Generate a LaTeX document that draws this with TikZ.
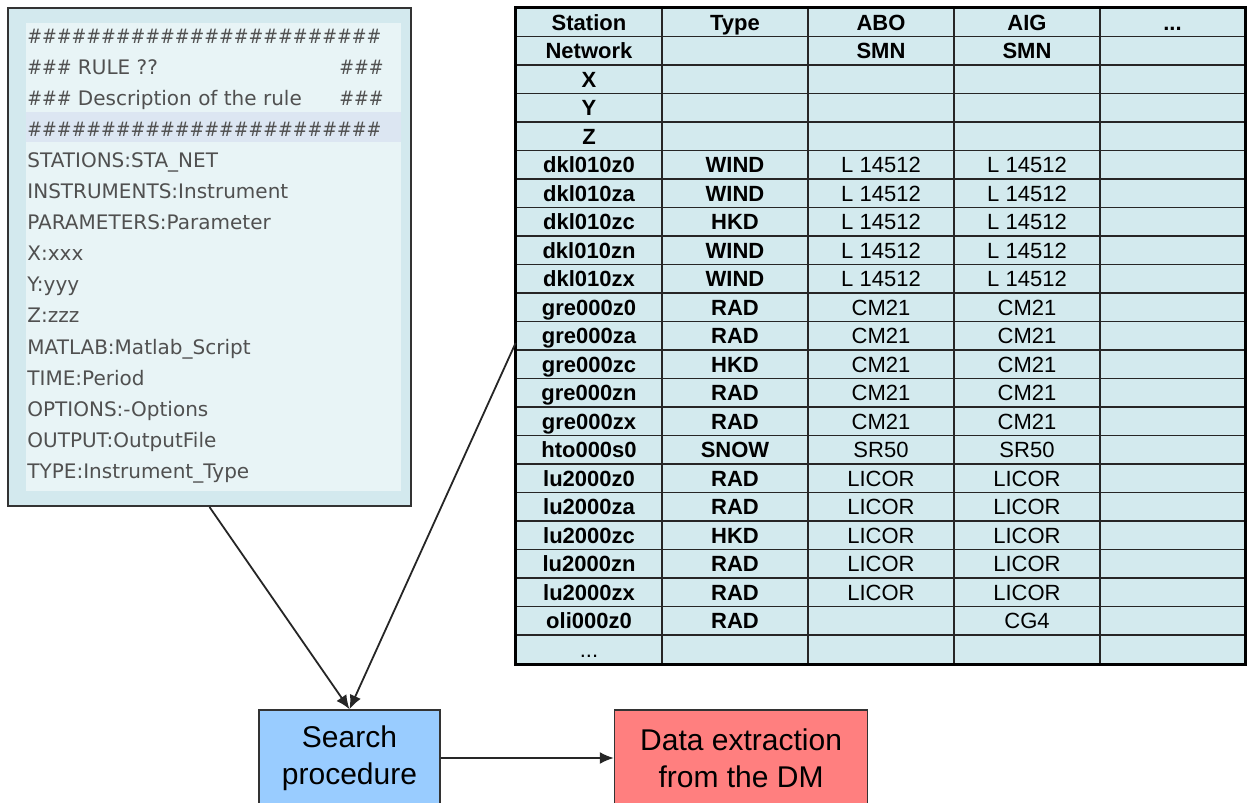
\documentclass[tikz,border=0pt]{standalone}
\usepackage{fontspec}
\setmainfont{Liberation Sans}
\newfontfamily\rulefont{DejaVu Sans}
\usetikzlibrary{positioning,arrows.meta}

\definecolor{panelbg}{HTML}{D3E9EE}
\definecolor{panelin}{HTML}{E8F4F6}
\definecolor{panelhl}{HTML}{DCE6F2}
\definecolor{rulegray}{HTML}{505050}
\definecolor{tablebg}{HTML}{D3EAEE}
\definecolor{searchblue}{HTML}{99CCFF}
\definecolor{extractred}{HTML}{FF7F7F}

\newcommand\hh{\scalebox{.88}[1]{\#\#\#}}
\newcommand\hashrow{\scalebox{.88}[1]{\#\#\#\#\#\#\#\#\#\#\#\#\#\#\#\#\#\#\#\#\#\#\#\#}}
\newcommand\more{...}

\begin{document}
\begin{tikzpicture}[x=0.5pt, y=-0.5pt,
        every node/.style = {inner sep=0pt},
        rulerow/.style = {anchor=base west, text=rulegray,
                          font=\rulefont\fontsize{10}{12}\selectfont},
        cell/.style = {font=\fontsize{11}{13}\selectfont,
                       text height=7.9pt, text depth=0pt},
        boldcell/.style = {cell, font=\fontsize{11}{13}\selectfont\bfseries},
        procbox/.style = {draw=black!80, line width=0.8pt, minimum height=48pt,
                          align=center, font=\fontsize{15}{18.5}\selectfont},
        flow/.style = {-{Latex[length=7pt,width=6pt]}, line width=0.9pt, draw=black!85}]
    \useasboundingbox (0,0) rectangle (1248,803);

    % rule file
    \node[draw=black!80, line width=1pt, fill=panelbg,
          minimum width=201.5pt, minimum height=249pt] (panel) at (209.5,257) {};
    \node[fill=panelin, minimum width=187.5pt, minimum height=234pt] (sheet) at (213.5,257) {};
    \node[fill=panelhl, minimum width=187.5pt, minimum height=15pt] (hl) at (213.5,127) {};
    \foreach \txt [count=\k] in {\hashrow, \hh{} RULE ??, \hh{} Description of the rule,
            \hashrow, STATIONS:STA\_NET, INSTRUMENTS:Instrument, PARAMETERS:Parameter,
            X:xxx, Y:yyy, Z:zzz, MATLAB:Matlab\_Script, TIME:Period,
            OPTIONS:-Options, OUTPUT:OutputFile, TYPE:Instrument\_Type}
        \node[rulerow] (rl\k) at (27,{43+31.1*(\k-1)}) {\txt};
    \node[rulerow, anchor=base east] (rr2) at (384,74.1) {\hh};
    \node[rulerow, anchor=base east] (rr3) at (384,105.2) {\hh};

    % station table
    \node[fill=tablebg, minimum width=364.5pt, minimum height=328pt] (tab) at (880.5,336) {};
    \foreach \cx in {662,808,954,1100}
        \draw[line width=0.9pt, black!85] (\cx,8) -- (\cx,664);
    \foreach \r in {1,...,22}
        \draw[line width=0.9pt, black!85] (516,{8+28.5*\r}) -- (1245,{8+28.5*\r});
    \draw[line width=1.5pt] (tab.north west) rectangle (tab.south east);

    \foreach \txt/\cx [count=\c] in {Station/589, Type/735, ABO/881, AIG/1027, \more/1172.5}
        \node[boldcell] (hd\c) at (\cx,22.25) {\txt};
    \foreach \txt/\cx [count=\c] in {Network/589, SMN/881, SMN/1027}
        \node[boldcell] (nw\c) at (\cx,50.75) {\txt};
    \foreach \st/\ty/\abo/\aig [count=\r from 3] in {X///, Y///, Z///,
            dkl010z0/WIND/L 14512/L 14512, dkl010za/WIND/L 14512/L 14512,
            dkl010zc/HKD/L 14512/L 14512, dkl010zn/WIND/L 14512/L 14512,
            dkl010zx/WIND/L 14512/L 14512,
            gre000z0/RAD/CM21/CM21, gre000za/RAD/CM21/CM21, gre000zc/HKD/CM21/CM21,
            gre000zn/RAD/CM21/CM21, gre000zx/RAD/CM21/CM21,
            hto000s0/SNOW/SR50/SR50,
            lu2000z0/RAD/LICOR/LICOR, lu2000za/RAD/LICOR/LICOR, lu2000zc/HKD/LICOR/LICOR,
            lu2000zn/RAD/LICOR/LICOR, lu2000zx/RAD/LICOR/LICOR,
            oli000z0/RAD//CG4} {
        \node[boldcell] (st\r) at (589,{28.5*\r-6.25}) {\st};
        \node[boldcell] (ty\r) at (735,{28.5*\r-6.25}) {\ty};
        \node[cell] (abo\r) at (881,{28.5*\r-6.25}) {\abo};
        \node[cell] (aig\r) at (1027,{28.5*\r-6.25}) {\aig};
    }
    \node[cell] (st23) at (589,649.25) {\more};

    % procedure boxes
    \node[procbox, fill=searchblue, minimum width=90.5pt] (search) at (349.5,758) {Search\\procedure};
    \node[procbox, fill=extractred, minimum width=126.5pt, right=86.5pt of search] (extract) {Data extraction\\from the DM};

    \draw[flow] (panel.south) -- (search.north);
    \draw[flow] ([yshift=-3.5pt]tab.west) -- (search.north);
    \draw[flow] (search) -- (extract);
\end{tikzpicture}
\end{document}
